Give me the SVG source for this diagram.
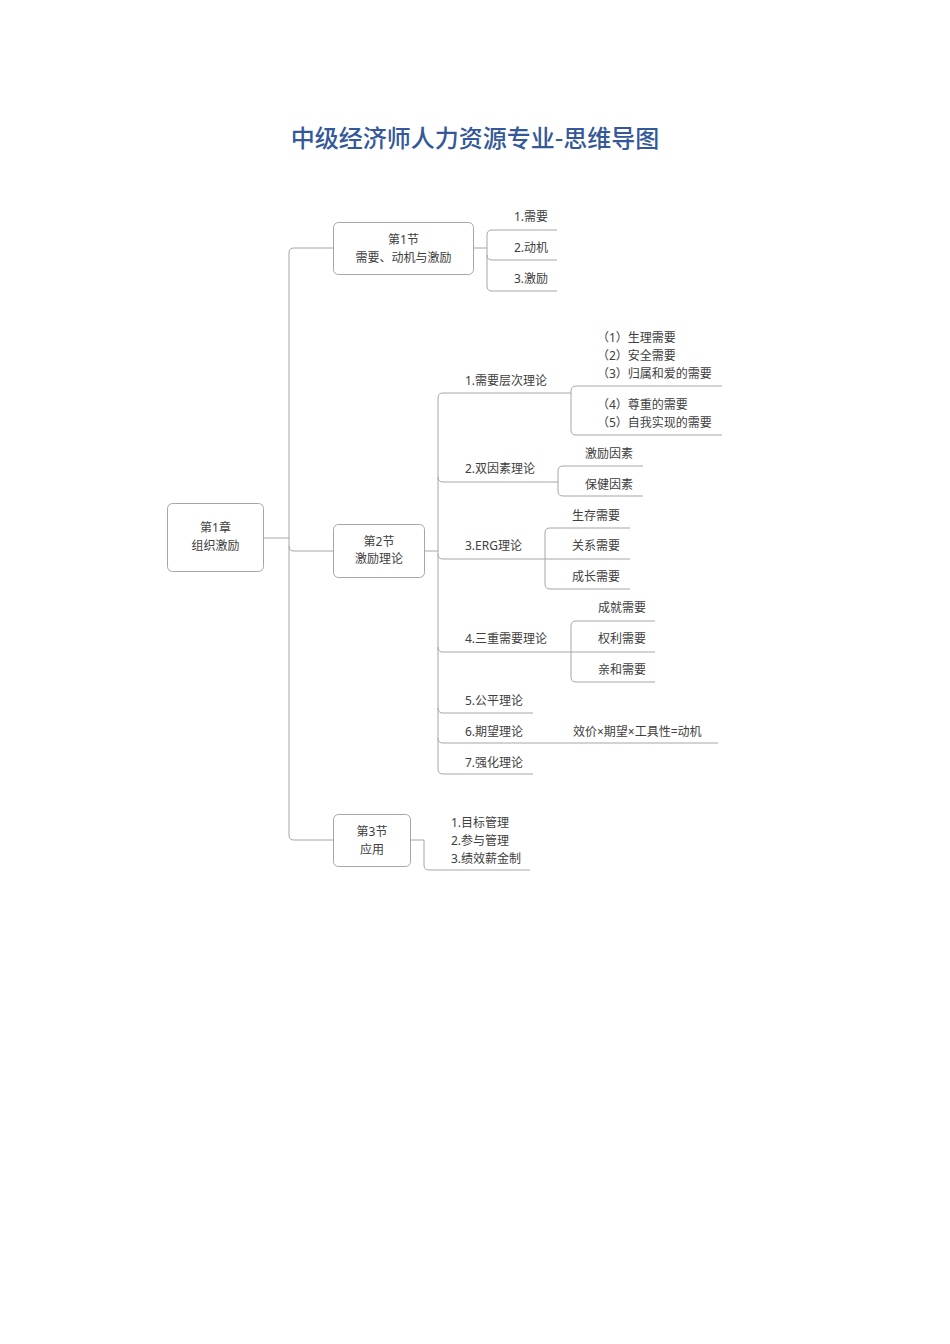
<svg xmlns="http://www.w3.org/2000/svg" width="950" height="1344" viewBox="0 0 950 1344">
<style>
.t{font-family:"Noto Sans","Noto Sans CJK SC",sans-serif;font-size:12px;fill:#404040}
.c{text-anchor:middle}
.box{fill:#ffffff;stroke:#a6a6a6;stroke-width:1}
.ln{fill:none;stroke:#a6a6a6;stroke-width:1}
.title{font-family:"Noto Sans CJK SC","Noto Sans",sans-serif;font-size:24px;font-weight:500;fill:#34589a;text-anchor:middle}
</style>
<rect width="950" height="1344" fill="#ffffff"/>
<text class="title" x="475" y="147">中级经济师人力资源专业-思维导图</text>
<g id="connectors">
<path class="ln" d="M264 538 H289"/>
<path class="ln" d="M333 248 H294 Q289 248 289 253 V835 Q289 840 294 840 H333"/>
<path class="ln" d="M289 546 Q289 551 294 551 H333"/>
<path class="ln" d="M473 248 H487"/>
<path class="ln" d="M557 230 H492 Q487 230 487 235 V286 Q487 291 492 291 H557"/>
<path class="ln" d="M487 255 Q487 260 492 260 H557"/>
<path class="ln" d="M425 551 H438"/>
<path class="ln" d="M571 393 H443 Q438 393 438 398 V769 Q438 774 443 774 H533"/>
<path class="ln" d="M438 477 Q438 482 443 482 H558"/>
<path class="ln" d="M438 554 Q438 559 443 559 H545"/>
<path class="ln" d="M438 647 Q438 652 443 652 H571"/>
<path class="ln" d="M438 708 Q438 713 443 713 H533"/>
<path class="ln" d="M438 738 Q438 743 443 743 H718"/>
<path class="ln" d="M722 386 H576 Q571 386 571 391 V430 Q571 435 576 435 H722"/>
<path class="ln" d="M643 466 H563 Q558 466 558 471 V491 Q558 496 563 496 H643"/>
<path class="ln" d="M630 528 H550 Q545 528 545 533 V584 Q545 589 550 589 H630"/>
<path class="ln" d="M545 559 H630"/>
<path class="ln" d="M655 621 H576 Q571 621 571 626 V677 Q571 682 576 682 H655"/>
<path class="ln" d="M571 652 H655"/>
<path class="ln" d="M411 840 H424 V865 Q424 870 429 870 H530"/>
</g>
<g id="root">
<rect class="box" x="167.5" y="503.5" width="96" height="68" rx="5"/>
<text class="t c" x="215.5" y="532">第1章</text>
<text class="t c" x="215.5" y="550">组织激励</text>
</g>
<g id="sec1">
<rect class="box" x="333.5" y="222.5" width="140" height="52" rx="5"/>
<text class="t c" x="403.5" y="244">第1节</text>
<text class="t c" x="403.5" y="262">需要、动机与激励</text>
</g>
<g id="sec1-1"><text class="t" x="514" y="221">1.需要</text></g>
<g id="sec1-2"><text class="t" x="514" y="252">2.动机</text></g>
<g id="sec1-3"><text class="t" x="514" y="283">3.激励</text></g>
<g id="sec2">
<rect class="box" x="333.5" y="524.5" width="91" height="53" rx="5"/>
<text class="t c" x="379" y="546">第2节</text>
<text class="t c" x="379" y="563">激励理论</text>
</g>
<g id="t1"><text class="t" x="465" y="385">1.需要层次理论</text></g>
<g id="t1a">
<text class="t" x="597" y="342">（1）生理需要</text>
<text class="t" x="597" y="360">（2）安全需要</text>
<text class="t" x="597" y="378">（3）归属和爱的需要</text>
</g>
<g id="t1b">
<text class="t" x="597" y="409">（4）尊重的需要</text>
<text class="t" x="597" y="427">（5）自我实现的需要</text>
</g>
<g id="t2"><text class="t" x="465" y="473">2.双因素理论</text></g>
<g id="t2a"><text class="t" x="585" y="458">激励因素</text></g>
<g id="t2b"><text class="t" x="585" y="489">保健因素</text></g>
<g id="t3"><text class="t" x="465" y="550">3.ERG理论</text></g>
<g id="t3a"><text class="t" x="572" y="520">生存需要</text></g>
<g id="t3b"><text class="t" x="572" y="550">关系需要</text></g>
<g id="t3c"><text class="t" x="572" y="581">成长需要</text></g>
<g id="t4"><text class="t" x="465" y="643">4.三重需要理论</text></g>
<g id="t4a"><text class="t" x="598" y="612">成就需要</text></g>
<g id="t4b"><text class="t" x="598" y="643">权利需要</text></g>
<g id="t4c"><text class="t" x="598" y="674">亲和需要</text></g>
<g id="t5"><text class="t" x="465" y="705">5.公平理论</text></g>
<g id="t6"><text class="t" x="465" y="736">6.期望理论</text></g>
<g id="t6a"><text class="t" x="573" y="736">效价×期望×工具性=动机</text></g>
<g id="t7"><text class="t" x="465" y="767">7.强化理论</text></g>
<g id="sec3">
<rect class="box" x="333.5" y="814.5" width="77" height="52" rx="5"/>
<text class="t c" x="372" y="836">第3节</text>
<text class="t c" x="372" y="854">应用</text>
</g>
<g id="sec3-1">
<text class="t" x="451" y="827">1.目标管理</text>
<text class="t" x="451" y="845">2.参与管理</text>
<text class="t" x="451" y="863">3.绩效薪金制</text>
</g>
</svg>
